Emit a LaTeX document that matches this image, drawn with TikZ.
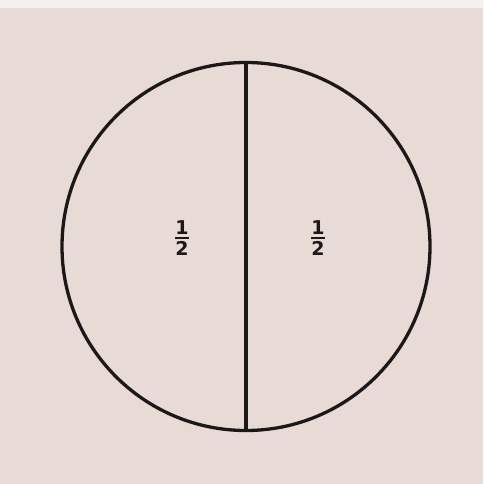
\documentclass[tikz,border=0pt]{standalone}
\usepackage{fontspec}
\setmainfont{DejaVu Sans}
\usetikzlibrary{positioning}
\definecolor{paper}{RGB}{232,219,214}
\definecolor{ink}{RGB}{28,24,24}
\newcommand{\halfpart}{\vbox{\offinterlineskip\halign{\hfil##\hfil\cr
  \bfseries 1\cr\noalign{\kern2.2pt}
  \vrule width 14pt height 1.9pt\cr\noalign{\kern2.2pt}
  \bfseries 2\cr}}}

\begin{document}
\begin{tikzpicture}[x=1pt,y=-1pt,
  disc/.style={circle, draw=ink, line width=3.3pt, minimum size=368pt, inner sep=0pt},
  cut/.style={draw=ink, line width=3.3pt},
  frac/.style={font=\fontsize{19}{21}\selectfont, text=ink, inner sep=0pt}
]
%% paper
\fill[paper] (0,0) rectangle (483,484);
\fill[white!55!paper] (0,0) rectangle (483,8);

%% the whole and its cut
\node[disc] (whole) at (246,246.5) {};
\draw[cut] (whole.north) -- (whole.south);

%% the two halves
\node[frac] (lhalf) at (182,238) {\halfpart};
\node[frac] (rhalf) at (318,238) {\halfpart};
\end{tikzpicture}
\end{document}
